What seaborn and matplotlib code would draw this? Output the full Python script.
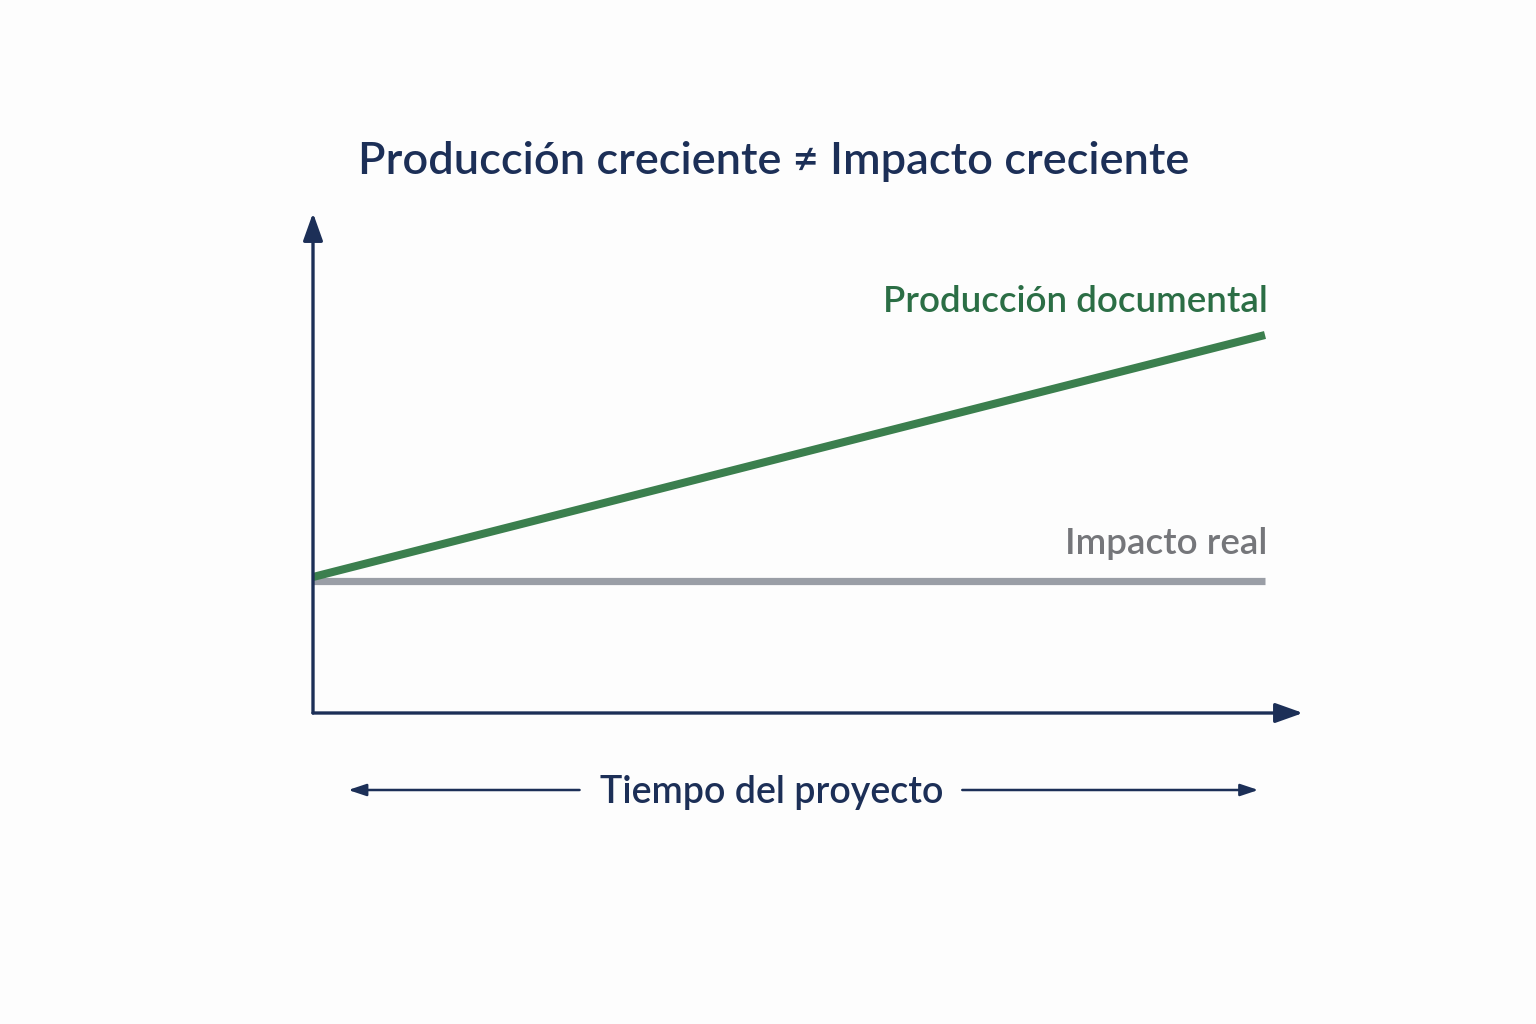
import matplotlib
matplotlib.use("Agg")
import matplotlib.pyplot as plt
import seaborn as sns
import pandas as pd

# Data
tiempo = [0, 10]
produccion_documental = [27.2, 75.6]
impacto_real = [26.4, 26.4]
titulo = "Producción creciente ≠ Impacto creciente"
etiqueta_prod = "Producción documental"
etiqueta_imp = "Impacto real"
etiqueta_x = "Tiempo del proyecto"

sns.set_theme(style="white")
plt.rcParams['font.family'] = ['Lato', 'DejaVu Sans']

navy = "#1c2f57"
green = "#3b7f4e"
green_text = "#2b6e45"
gray = "#9a9ea6"
gray_text = "#75767a"
bg = "#fdfdfd"

fig = plt.figure(figsize=(15.36, 10.24), dpi=100, facecolor=bg)
W, H = 1536, 1024
x0, y0 = 313, 713
x1, y1 = 1303, 213
ax = fig.add_axes([x0 / W, (H - y0) / H, (x1 - x0) / W, (y0 - y1) / H])
ax.set_facecolor(bg)
ax.set_xlim(0, (x1 - x0) / 95.2)
ax.set_ylim(0, 100)

df = pd.DataFrame({
    "tiempo": tiempo * 2,
    "valor": impacto_real + produccion_documental,
    "serie": [etiqueta_imp] * 2 + [etiqueta_prod] * 2,
})
sns.lineplot(data=df[df.serie == etiqueta_imp], x="tiempo", y="valor", ax=ax,
             color=gray, linewidth=5.2, solid_capstyle="butt", legend=False)
sns.lineplot(data=df[df.serie == etiqueta_prod], x="tiempo", y="valor", ax=ax,
             color=green, linewidth=5.8, solid_capstyle="butt", legend=False)

for s in ax.spines.values():
    s.set_visible(False)
ax.set_xticks([])
ax.set_yticks([])
ax.set_xlabel("")
ax.set_ylabel("")

xmax = ax.get_xlim()[1]
arrow_kw = dict(arrowstyle="-|>,head_length=1.4,head_width=0.5", color=navy, lw=2.4,
                shrinkA=0, shrinkB=0)
ax.annotate("", xy=(0, 100), xytext=(0, 0), arrowprops=arrow_kw, annotation_clip=False)
ax.annotate("", xy=(xmax, 0), xytext=(0, 0), arrowprops=arrow_kw, annotation_clip=False)

# Labels
ax.text(tiempo[-1] + 0.03, 82.2, etiqueta_prod, ha="right", va="center",
        color=green_text, fontsize=26.5, fontweight="semibold")
ax.text(tiempo[-1] + 0.03, 33.8, etiqueta_imp, ha="right", va="center",
        color=gray_text, fontsize=26.5, fontweight="semibold")

# Bottom time label with arrows
yb = -15.4
small_arrow = dict(arrowstyle="-|>,head_length=0.9,head_width=0.3", color=navy, lw=1.8,
                   shrinkA=0, shrinkB=0)
ax.annotate("", xy=(0.37, yb), xytext=(2.8, yb), arrowprops=small_arrow, annotation_clip=False)
ax.annotate("", xy=(9.93, yb), xytext=(6.82, yb), arrowprops=small_arrow, annotation_clip=False)
ax.text(4.82, yb - 0.6, etiqueta_x, ha="center", va="center", color=navy,
        fontsize=27, fontweight="semibold", clip_on=False)

fig.text(774 / W, 1 - 161 / H, titulo, ha="center", va="center", color=navy,
         fontsize=32.5, fontweight="semibold")

fig.savefig("out.png", dpi=100, facecolor=bg)
